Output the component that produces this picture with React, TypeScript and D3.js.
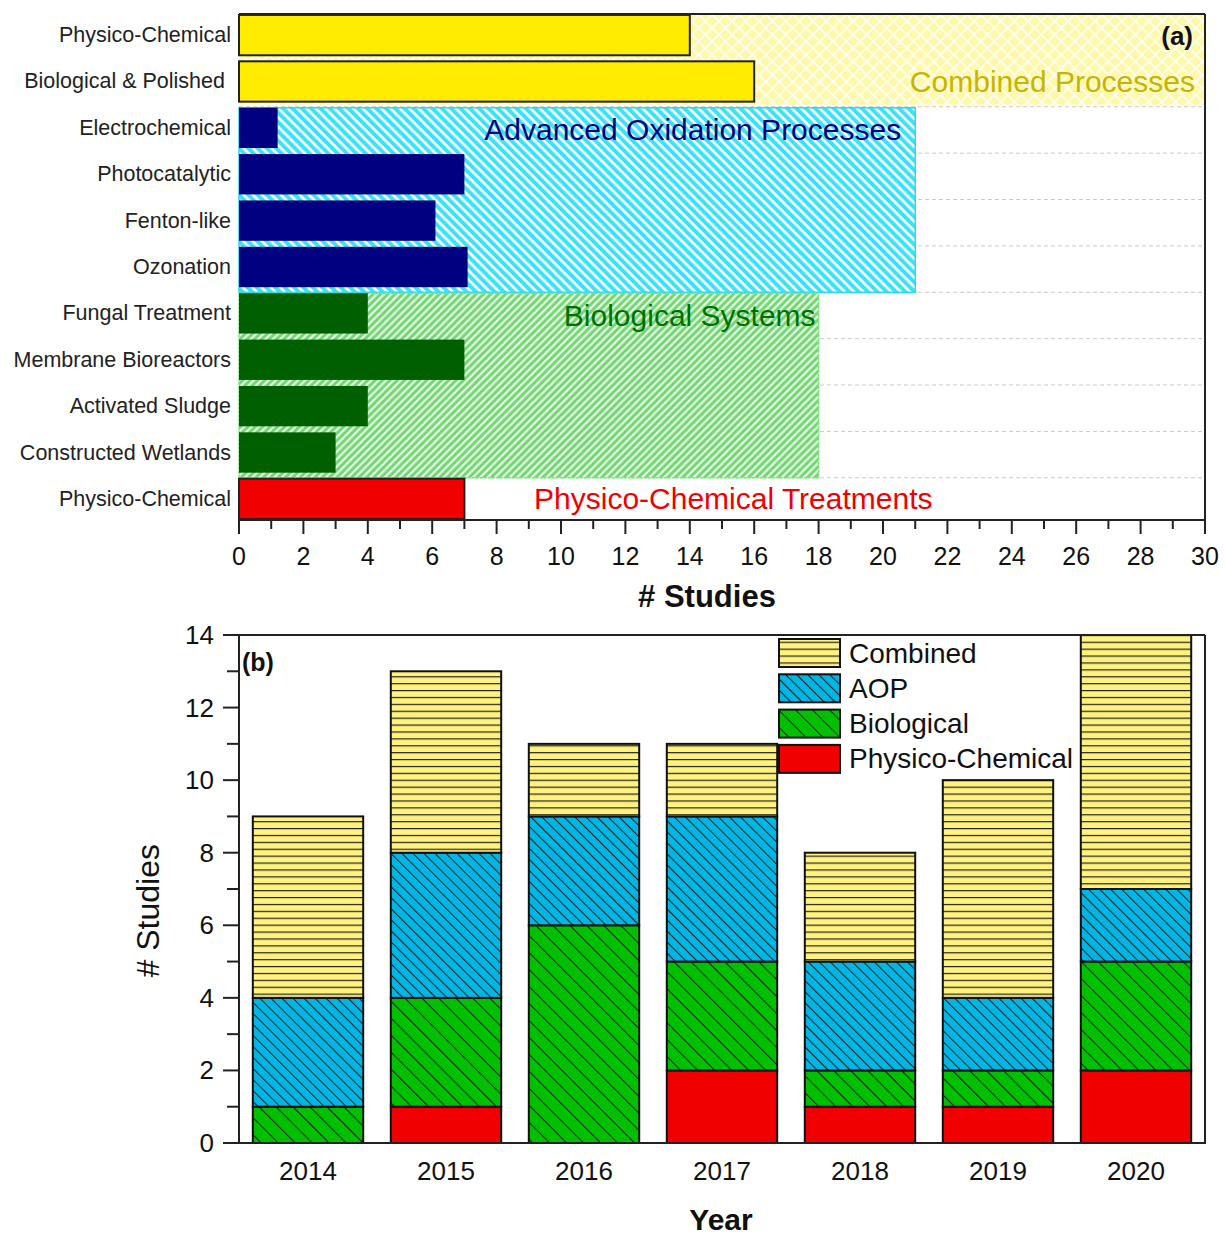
import * as d3 from 'd3';

// panel (a): treatment types
const treatments = [
    'Physico-Chemical',
    'Biological & Polished',
    'Electrochemical',
    'Photocatalytic',
    'Fenton-like',
    'Ozonation',
    'Fungal Treatment',
    'Membrane Bioreactors',
    'Activated Sludge',
    'Constructed Wetlands',
    'Physico-Chemical',
];
const treatmentStudies = [14, 16, 1.2, 7, 6.1, 7.1, 4, 7, 4, 3, 7];
const treatmentGroup = ['comb', 'comb', 'aop', 'aop', 'aop', 'aop', 'bio', 'bio', 'bio', 'bio', 'phys'];

// group totals (background boxes)
const groupKeys = ['comb', 'aop', 'bio', 'phys'];
const groupNames = ['Combined Processes', 'Advanced Oxidation Processes', 'Biological Systems', 'Physico-Chemical Treatments'];
const groupTotals = [30, 21, 18, 0];

const xTicksA = d3.range(0, 31, 2);

// panel (b): studies per year
const years = ['2014', '2015', '2016', '2017', '2018', '2019', '2020'];
const physico = [0, 1, 0, 2, 1, 1, 2];
const biological = [1, 3, 6, 3, 1, 1, 3];
const aop = [3, 4, 3, 4, 3, 2, 2];
const combined = [5, 5, 2, 2, 3, 6, 7];
const seriesKeys = ['physico', 'biological', 'aop', 'combined'];
const legendLabels = ['Combined', 'AOP', 'Biological', 'Physico-Chemical'];

const font = 'Liberation Sans, Arial, sans-serif';

const barFill: Record<string, string> = {
    comb: '#ffec00',
    aop: '#000080',
    bio: '#005f00',
    phys: '#f00000',
};
const labelColor: Record<string, string> = {
    comb: '#c8b400',
    aop: '#000080',
    bio: '#007000',
    phys: '#f00000',
};
const seriesFill: Record<string, string> = {
    combined: 'url(#hCombined)',
    aop: 'url(#hAop)',
    biological: 'url(#hBio)',
    physico: '#f00000',
};

export default function App() {
    // ---- panel a
    const xA = d3.scaleLinear().domain([0, 30]).range([239, 1205]);
    const yA = d3
        .scaleBand<number>()
        .domain(d3.range(treatments.length))
        .range([14, 520])
        .paddingInner(0.13)
        .paddingOuter(0.02);
    const step = yA.step();
    const rowTop = (i: number) => 14 + i * step;

    const groupBoxes = groupKeys.map((g, gi) => {
        const rows = treatmentGroup.map((t, i) => (t === g ? i : -1)).filter((i) => i >= 0);
        return { key: g, name: groupNames[gi], total: groupTotals[gi], first: rows[0], last: rows[rows.length - 1] };
    });

    // ---- panel b
    const xB = d3.scaleBand().domain(years).range([239, 1205]).paddingInner(0.2).paddingOuter(0.1);
    const yB = d3.scaleLinear().domain([0, 14]).range([1143, 635]);
    const table = years.map((y, i) => ({
        year: y,
        physico: physico[i],
        biological: biological[i],
        aop: aop[i],
        combined: combined[i],
    }));
    const stacked = d3.stack<any>().keys(seriesKeys)(table);

    return (
        <svg
            width={1225}
            height={1238}
            style={{ position: 'absolute', left: 0, top: 0, background: '#fff' }}
            fontFamily={font}
        >
            <defs>
                <pattern id='pComb' patternUnits='userSpaceOnUse' width={9.5} height={9.5} patternTransform='rotate(45)'>
                    <rect width={9.5} height={9.5} fill='#fff8a8' />
                    <line x1={0} y1={0} x2={0} y2={9.5} stroke='#fff' strokeWidth={3} />
                    <line x1={0} y1={0} x2={9.5} y2={0} stroke='#fff' strokeWidth={3} />
                </pattern>
                <pattern id='pAop' patternUnits='userSpaceOnUse' width={6.6} height={6.6} patternTransform='rotate(-45)'>
                    <rect width={6.6} height={6.6} fill='#3ee2f8' />
                    <line x1={1.5} y1={0} x2={1.5} y2={6.6} stroke='#fff' strokeWidth={2.6} />
                </pattern>
                <pattern id='pBio' patternUnits='userSpaceOnUse' width={5.2} height={5.2} patternTransform='rotate(45)'>
                    <rect width={5.2} height={5.2} fill='#70da70' />
                    <line x1={1.2} y1={0} x2={1.2} y2={5.2} stroke='#fff' strokeWidth={1.9} />
                </pattern>
                <pattern id='hCombined' patternUnits='userSpaceOnUse' width={10} height={6.9}>
                    <rect width={10} height={6.9} fill='#fff27e' />
                    <line x1={0} y1={0.6} x2={10} y2={0.6} stroke='#222' strokeWidth={1.2} />
                </pattern>
                <pattern id='hAop' patternUnits='userSpaceOnUse' width={7.8} height={7.8} patternTransform='rotate(-45)'>
                    <rect width={7.8} height={7.8} fill='#00b6e4' />
                    <line x1={0.5} y1={0} x2={0.5} y2={7.8} stroke='#222' strokeWidth={1.1} />
                </pattern>
                <pattern id='hBio' patternUnits='userSpaceOnUse' width={12} height={12} patternTransform='rotate(-45)'>
                    <rect width={12} height={12} fill='#00c000' />
                    <line x1={0.5} y1={0} x2={0.5} y2={12} stroke='#222' strokeWidth={1.1} />
                </pattern>
            </defs>

            {/* ================= panel (a) ================= */}
            {d3.range(1, treatments.length).map((i) => (
                <line
                    key={'g' + i}
                    x1={xA(0)}
                    x2={xA(30)}
                    y1={rowTop(i)}
                    y2={rowTop(i)}
                    stroke='#c8c8c8'
                    strokeDasharray='4,3'
                />
            ))}
            {groupBoxes
                .filter((g) => g.total > 0)
                .map((g) => (
                    <rect
                        key={'bg' + g.key}
                        x={xA(0)}
                        y={g.key === 'comb' ? rowTop(g.first) : rowTop(g.first) + 1}
                        width={xA(g.total) - xA(0)}
                        height={rowTop(g.last + 1) - rowTop(g.first) - (g.key === 'comb' ? 2 : 1)}
                        fill={g.key === 'comb' ? 'url(#pComb)' : g.key === 'aop' ? 'url(#pAop)' : 'url(#pBio)'}
                        stroke={g.key === 'comb' ? 'none' : g.key === 'aop' ? '#2ad8f2' : '#7ee07e'}
                        strokeWidth={1.5}
                        strokeDasharray={g.key === 'bio' ? '3,1' : undefined}
                    />
                ))}
            {treatmentStudies.map((v, i) => {
                const g = treatmentGroup[i];
                const outlined = g === 'comb' || g === 'phys';
                return (
                    <rect
                        key={'b' + i}
                        x={xA(0)}
                        y={yA(i)}
                        width={xA(v) - xA(0)}
                        height={yA.bandwidth()}
                        fill={barFill[g]}
                        stroke={outlined ? '#222' : 'none'}
                        strokeWidth={outlined ? 2 : 0}
                    />
                );
            })}
            {treatments.map((t, i) => (
                <text
                    key={'t' + i}
                    x={i === 1 ? 225 : 231}
                    y={(yA(i) as number) + yA.bandwidth() / 2}
                    textAnchor='end'
                    dominantBaseline='central'
                    fontSize={21.5}
                    fill='#222'
                >
                    {t}
                </text>
            ))}
            {/* group labels */}
            <text x={xA(30) - 10} y={(rowTop(1) + rowTop(2)) / 2 - 2} textAnchor='end' dominantBaseline='central' fontSize={30} fill={labelColor.comb}>
                {groupNames[0]}
            </text>
            <text x={xA(21) - 14} y={(yA(2) as number) + yA.bandwidth() / 2 + 2} textAnchor='end' dominantBaseline='central' fontSize={30} fill={labelColor.aop}>
                {groupNames[1]}
            </text>
            <text x={xA(18) - 3} y={(yA(6) as number) + yA.bandwidth() / 2 + 2} textAnchor='end' dominantBaseline='central' fontSize={30} fill={labelColor.bio}>
                {groupNames[2]}
            </text>
            <text x={xA(15.35)} y={(yA(10) as number) + yA.bandwidth() / 2} textAnchor='middle' dominantBaseline='central' fontSize={30} fill={labelColor.phys}>
                {groupNames[3]}
            </text>
            <text x={1193} y={36} textAnchor='end' dominantBaseline='central' fontSize={26} fontWeight='bold' fill='#111'>
                (a)
            </text>
            {/* frame */}
            <line x1={xA(0)} x2={xA(30)} y1={14} y2={14} stroke='#222' strokeWidth={2} />
            <line x1={xA(30)} x2={xA(30)} y1={14} y2={520} stroke='#222' strokeWidth={2} />
            <line x1={xA(0) - 1} x2={xA(30) + 1} y1={520} y2={520} stroke='#222' strokeWidth={2} />
            {d3.range(0, 31).map((v) => (
                <line
                    key={'xt' + v}
                    x1={xA(v)}
                    x2={xA(v)}
                    y1={520}
                    y2={v % 2 === 0 ? 534 : 529}
                    stroke='#222'
                    strokeWidth={2}
                />
            ))}
            {xTicksA.map((v) => (
                <text key={'xl' + v} x={xA(v)} y={556} textAnchor='middle' dominantBaseline='central' fontSize={25} fill='#111'>
                    {v}
                </text>
            ))}
            <text x={707} y={596} textAnchor='middle' dominantBaseline='central' fontSize={31} fontWeight='bold' fill='#111'>
                # Studies
            </text>

            {/* ================= panel (b) ================= */}
            {stacked.map((s) => (
                <g key={s.key}>
                    {s.map((d, i) =>
                        d[1] - d[0] > 0 ? (
                            <rect
                                key={i}
                                x={xB(years[i])}
                                y={yB(d[1])}
                                width={xB.bandwidth()}
                                height={yB(d[0]) - yB(d[1])}
                                fill={seriesFill[s.key]}
                                stroke='#111'
                                strokeWidth={2}
                            />
                        ) : null
                    )}
                </g>
            ))}
            {/* frame + axes */}
            <line x1={239} x2={1205} y1={yB(14)} y2={yB(14)} stroke='#222' strokeWidth={2} />
            <line x1={1205} x2={1205} y1={yB(14)} y2={yB(0)} stroke='#222' strokeWidth={2} />
            <line x1={239} x2={239} y1={yB(14)} y2={yB(0)} stroke='#222' strokeWidth={2} />
            <line x1={223} x2={1206} y1={yB(0)} y2={yB(0)} stroke='#222' strokeWidth={2} />
            {d3.range(0, 15).map((v) => (
                <line key={'yt' + v} x1={v % 2 === 0 ? 223 : 227} x2={239} y1={yB(v)} y2={yB(v)} stroke='#222' strokeWidth={2} />
            ))}
            {yB.ticks(7).map((v) => (
                <text key={'yl' + v} x={214} y={yB(v)} textAnchor='end' dominantBaseline='central' fontSize={26} fill='#111'>
                    {v}
                </text>
            ))}
            {years.map((y) => (
                <text
                    key={'xlb' + y}
                    x={(xB(y) as number) + xB.bandwidth() / 2}
                    y={1171}
                    textAnchor='middle'
                    dominantBaseline='central'
                    fontSize={26}
                    fill='#111'
                >
                    {y}
                </text>
            ))}
            <text
                transform={`translate(148, ${yB(6.4)}) rotate(-90)`}
                textAnchor='middle'
                dominantBaseline='central'
                fontSize={32}
                fill='#111'
            >
                # Studies
            </text>
            <text x={721} y={1219} textAnchor='middle' dominantBaseline='central' fontSize={30} fontWeight='bold' fill='#111'>
                Year
            </text>
            <text x={242} y={662} dominantBaseline='central' fontSize={25} fontWeight='bold' fill='#111'>
                (b)
            </text>
            {/* legend */}
            {legendLabels.map((l, i) => {
                const key = seriesKeys[seriesKeys.length - 1 - i];
                const y = 639 + i * 35.3;
                return (
                    <g key={'lg' + l}>
                        <rect x={779} y={y} width={61} height={28} fill={seriesFill[key]} stroke='#111' strokeWidth={2} />
                        <text x={849} y={y + 14} dominantBaseline='central' fontSize={28} fill='#111'>
                            {l}
                        </text>
                    </g>
                );
            })}
        </svg>
    );
}
